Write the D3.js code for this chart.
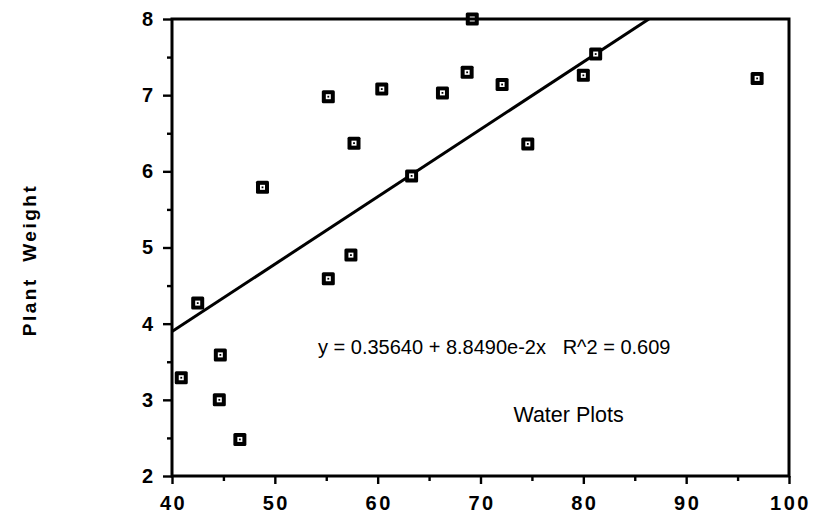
<!DOCTYPE html>
<html>
<head>
<meta charset="utf-8">
<script src="https://cdn.jsdelivr.net/npm/d3@7/dist/d3.min.js"></script>
<style>
  html, body { margin: 0; padding: 0; background: #fff; }
  svg { display: block; }
</style>
</head>
<body>
<svg id="chart" width="814" height="530"></svg>
<script>
// ---- data ----
const waterPct = [40.9, 42.5, 44.6, 44.7, 46.6, 48.8, 55.2, 55.2, 57.4, 57.7, 60.4, 63.3, 66.3, 68.7, 69.2, 72.1, 74.6, 80.0, 81.2, 96.9];
const plantWeight = [3.29, 4.27, 3.0, 3.59, 2.48, 5.79, 4.59, 6.98, 4.9, 6.37, 7.08, 5.94, 7.03, 7.3, 8.0, 7.14, 6.36, 7.26, 7.54, 7.22];
const fitIntercept = 0.35640;
const fitSlope = 8.8490e-2;
const xTickLabels = [40, 50, 60, 70, 80, 90, 100];
const yTickLabels = [2, 3, 4, 5, 6, 7, 8];
const equationText = "y = 0.35640 + 8.8490e-2x   R^2 = 0.609";
const noteText = "Water Plots";
const yTitle = "Plant  Weight";

// ---- layout ----
const svg = d3.select("#chart");
const L = 172, R = 789, T = 19, B = 476;
const x = d3.scaleLinear().domain([40, 100]).range([L, R]);
const y = d3.scaleLinear().domain([2, 8]).range([B, T]);

const labelFont = "'Liberation Sans', Arial, Helvetica, sans-serif";

// regression line, clipped to plot area
svg.append("clipPath").attr("id", "clip").append("rect")
  .attr("x", L).attr("y", T).attr("width", R - L).attr("height", B - T);
const xEnd = (8 - fitIntercept) / fitSlope;
const fitPts = [40, Math.min(100, xEnd)].map(v => [v, fitIntercept + fitSlope * v]);
svg.append("path")
  .attr("clip-path", "url(#clip)")
  .attr("d", d3.line().x(d => x(d[0])).y(d => y(d[1]))(fitPts))
  .attr("fill", "none").attr("stroke", "#000").attr("stroke-width", 3);

// markers
const pts = waterPct.map((v, i) => ({ x: v, y: plantWeight[i] }));
const m = svg.append("g").selectAll("g").data(pts).join("g")
  .attr("transform", d => `translate(${x(d.x)},${y(d.y)})`);
m.append("rect").attr("x", -6.5).attr("y", -6.5).attr("width", 13).attr("height", 13).attr("rx", 1.5).attr("fill", "#000");
m.append("rect").attr("x", -2.5).attr("y", -2.5).attr("width", 5).attr("height", 5).attr("fill", "#fff");
m.append("rect").attr("x", -0.9).attr("y", -0.9).attr("width", 1.8).attr("height", 1.8).attr("fill", "#000");

// frame
svg.append("rect")
  .attr("x", L).attr("y", T).attr("width", R - L).attr("height", B - T)
  .attr("fill", "none").attr("stroke", "#000").attr("stroke-width", 3);

// x axis ticks
const xMinor = d3.range(45, 100, 10);
const gx = svg.append("g").attr("transform", `translate(0,${B})`)
  .call(d3.axisBottom(x).tickValues(xTickLabels).tickSize(8).tickFormat(d3.format("d")).tickPadding(12));
gx.select(".domain").remove();
gx.selectAll("line").attr("stroke-width", 2.4);
gx.selectAll("text").attr("font-family", labelFont).attr("font-weight", "bold").attr("font-size", 20)
  .attr("letter-spacing", "2.5px").attr("dx", "1px").attr("fill", "#000");
const gxm = svg.append("g").attr("transform", `translate(0,${B})`)
  .call(d3.axisBottom(x).tickValues(xMinor).tickSize(5).tickFormat(""));
gxm.select(".domain").remove();
gxm.selectAll("line").attr("stroke-width", 2.4);

// y axis ticks
const yMinor = d3.range(2.5, 8, 1);
const gy = svg.append("g").attr("transform", `translate(${L},0)`)
  .call(d3.axisLeft(y).tickValues(yTickLabels).tickSize(9).tickFormat(d3.format("d")).tickPadding(10));
gy.select(".domain").remove();
gy.selectAll("line").attr("stroke-width", 2.4);
gy.selectAll("text").attr("font-family", labelFont).attr("font-weight", "bold").attr("font-size", 20).attr("fill", "#000");
const gym = svg.append("g").attr("transform", `translate(${L},0)`)
  .call(d3.axisLeft(y).tickValues(yMinor).tickSize(5).tickFormat(""));
gym.select(".domain").remove();
gym.selectAll("line").attr("stroke-width", 2.4);

// y title
svg.append("text")
  .attr("transform", `translate(36,260) rotate(-90)`)
  .attr("text-anchor", "middle")
  .attr("font-family", labelFont).attr("font-weight", "bold").attr("font-size", 19)
  .attr("letter-spacing", "2.5px")
  .style("white-space", "pre")
  .text(yTitle);

// annotations
svg.append("text")
  .attr("x", x(54.2)).attr("y", y(3.6))
  .attr("font-family", labelFont).attr("font-size", 20)
  .style("white-space", "pre")
  .text(equationText);
svg.append("text")
  .attr("x", x(73.2)).attr("y", y(2.71))
  .attr("font-family", labelFont).attr("font-size", 21.5)
  .text(noteText);
</script>
</body>
</html>
